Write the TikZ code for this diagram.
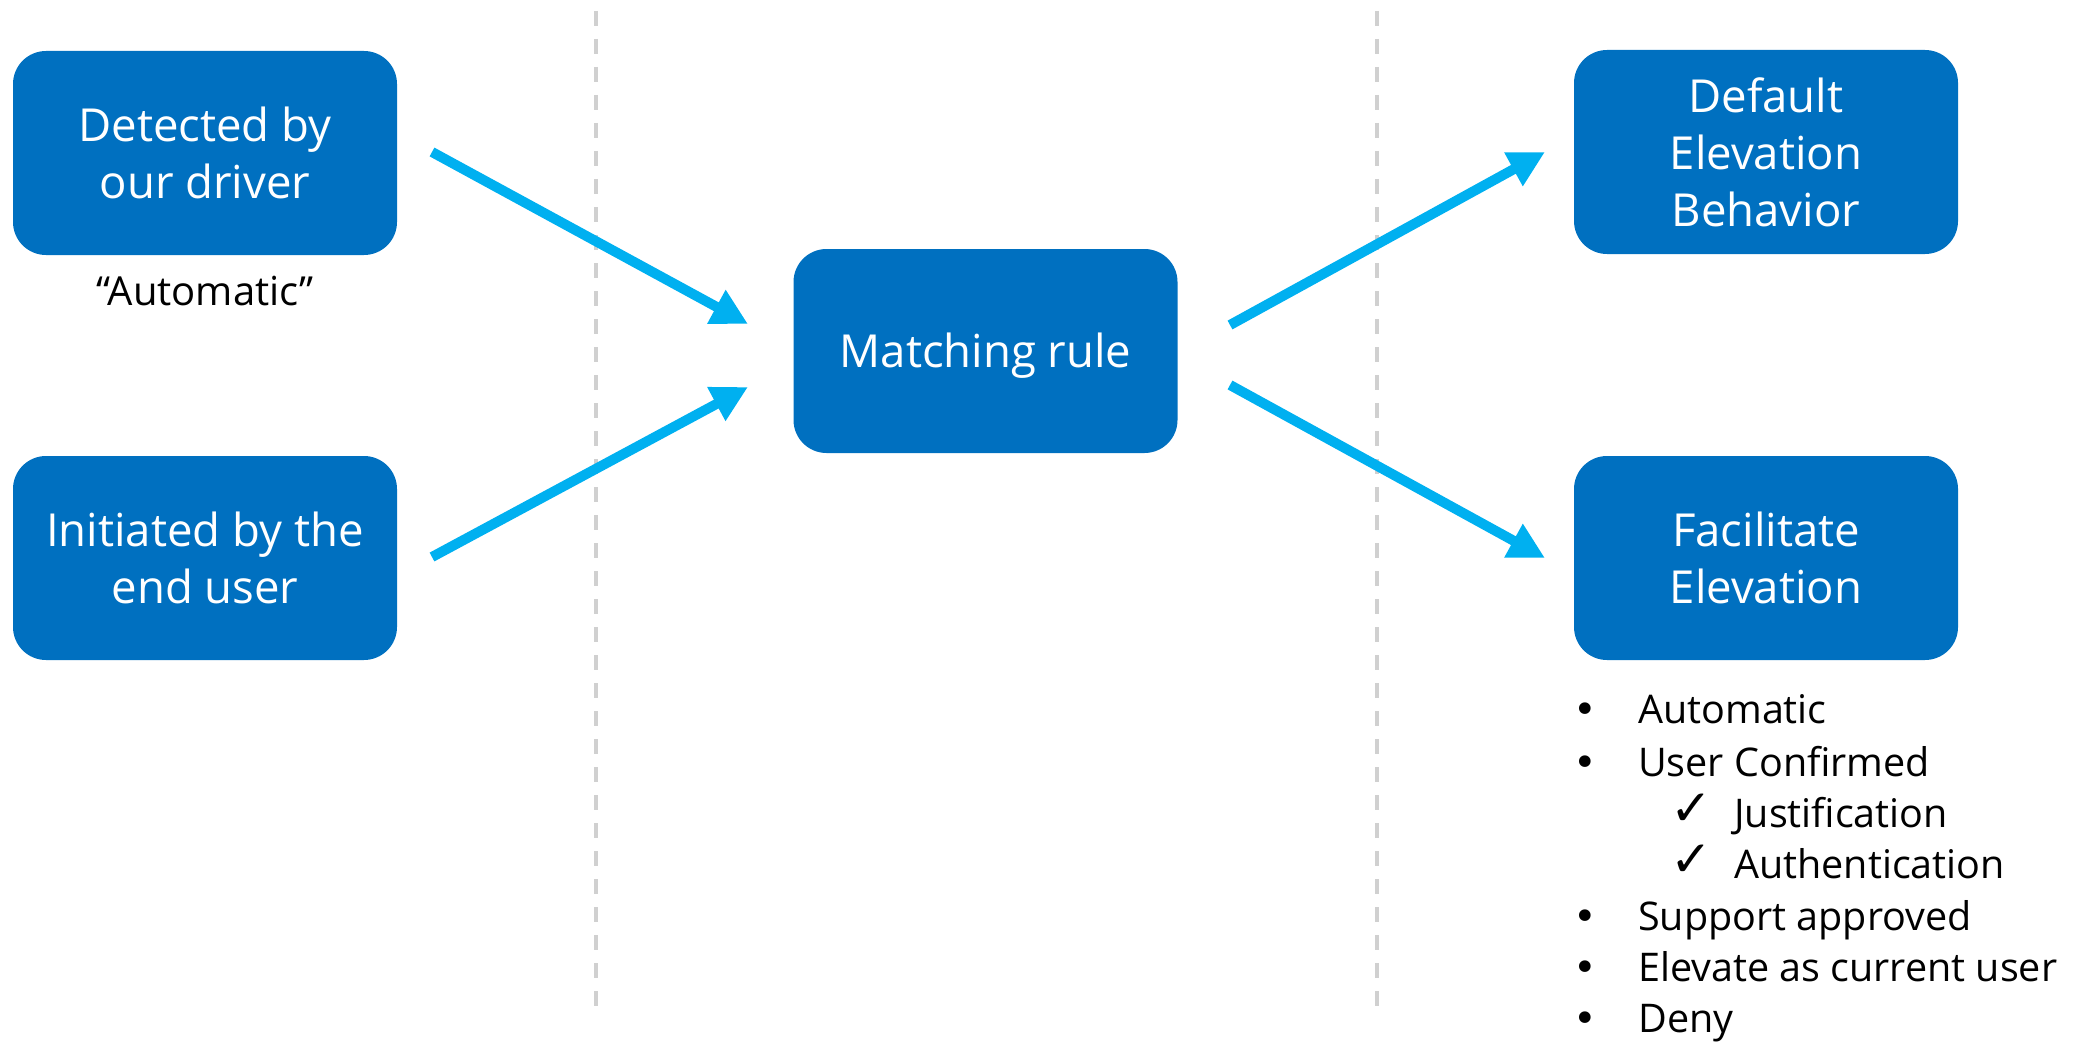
\documentclass[tikz,border=0pt]{standalone}
\usepackage{fontspec}
\setmainfont{Open Sans}
\newfontfamily\symfont{DejaVu Sans}
\usetikzlibrary{arrows.meta}
\definecolor{boxblue}{RGB}{0,112,192}
\definecolor{arrowblue}{RGB}{0,176,240}
\definecolor{divgray}{RGB}{208,208,208}
\tikzset{
  stage/.style={fill=boxblue, rounded corners=33pt, minimum width=384pt,
    minimum height=204pt, text=white, align=center, inner sep=0pt,
    font=\fontsize{45.5}{57}\selectfont},
  flow/.style={arrowblue, line width=10pt, -{Triangle[length=36pt,width=36pt]}},
  divider/.style={divgray, line width=3.5pt, dash pattern=on 15pt off 13pt},
  listtext/.style={anchor=base west, inner sep=0pt, font=\fontsize{39.5}{47}\selectfont},
  bulletmark/.style={anchor=base, inner sep=0pt, font=\symfont\fontsize{40}{48}\selectfont},
  checkmark/.style={anchor=base, inner sep=0pt, font=\symfont\fontsize{50}{60}\selectfont},
}
\begin{document}
\begin{tikzpicture}[x=1pt, y=-1pt]
\useasboundingbox (0,0) rectangle (2076,1043);

% column dividers
\draw[divider] (596,11) -- (596,1006);
\draw[divider] (1377,11) -- (1377,1006);

% stages
\node[stage] (det) at (205,153) {Detected by\\our driver};
\node[stage] (ini) at (205,558) {Initiated by the\\end user};
\node[stage] (match) at (985.5,351) {\raisebox{-5pt}[\height][\depth]{Matching rule}};
\node[stage] (def) at (1766,152) {Default\\Elevation\\Behavior};
\node[stage] (fac) at (1766,558) {Facilitate\\Elevation};

\node[font=\fontsize{40}{48}\selectfont, inner sep=0pt] (autolbl) at (205,291) {“Automatic”};

% flow arrows
\coordinate (a1s) at (432,152);  \coordinate (a1e) at (748,324);
\coordinate (a2s) at (432,557);  \coordinate (a2e) at (748,387);
\coordinate (a3s) at (1230,325); \coordinate (a3e) at (1545,152);
\coordinate (a4s) at (1230,385); \coordinate (a4e) at (1545,558);
\draw[flow] (a1s) -- (a1e);
\draw[flow] (a2s) -- (a2e);
\draw[flow] (a3s) -- (a3e);
\draw[flow] (a4s) -- (a4e);

% elevation options
\node[bulletmark] (b1) at (1585,723) {•};
\node[listtext] (t1) at (1638,723) {Automatic};
\node[bulletmark] (b2) at (1585,776) {•};
\node[listtext] (t2) at (1638,776) {User Confirmed};
\node[checkmark] (c1) at (1691,825) {✓};
\node[listtext] (t3) at (1734,827) {Justification};
\node[checkmark] (c2) at (1691,876) {✓};
\node[listtext] (t4) at (1734,878) {Authentication};
\node[bulletmark] (b3) at (1585,930) {•};
\node[listtext] (t5) at (1638,930) {Support approved};
\node[bulletmark] (b4) at (1585,981) {•};
\node[listtext] (t6) at (1638,981) {Elevate as current user};
\node[bulletmark] (b5) at (1585,1032) {•};
\node[listtext] (t7) at (1638,1032) {Deny};
\end{tikzpicture}
\end{document}
